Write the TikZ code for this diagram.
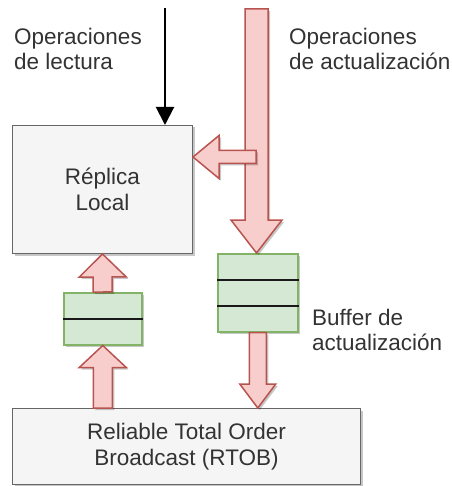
\documentclass[tikz,border=0pt]{standalone}
\usepackage{fontspec}
\setmainfont{Liberation Sans}
\usetikzlibrary{calc,arrows.meta,shadows}

\definecolor{pinkfill}{HTML}{F8CECC}
\definecolor{pinkline}{HTML}{B85450}
\definecolor{greenfill}{HTML}{D5E8D4}
\definecolor{greenline}{HTML}{82B366}
\definecolor{boxfill}{HTML}{F5F5F5}
\definecolor{boxline}{HTML}{666666}
\definecolor{txt}{HTML}{333333}

% Wide outlined arrow from #1 to #2: shaft half width #3, head half width #4, head length #5
\newcommand\flexarrow[5]{%
  \path let \p1=($(#2)-(#1)$) in
    \pgfextra{\pgfmathsetmacro\falen{veclen(\x1,\y1)}%
              \pgfmathsetmacro\faang{atan2(\y1,\x1)}%
              \global\let\falen\falen\global\let\faang\faang};
  \draw[flexarrow, shift={(#1)}, rotate=\faang]
    (0,-#3) -- ({\falen-#5},-#3) -- ({\falen-#5},-#4) -- (\falen,0)
    -- ({\falen-#5},#4) -- ({\falen-#5},#3) -- (0,#3) -- cycle;
}

\begin{document}
\begin{tikzpicture}[x=1pt, y=1pt,
  shade/.style={drop shadow={shadow xshift=2pt, shadow yshift=-2pt, opacity=.22, fill=black}},
  box/.style={draw=boxline, fill=boxfill, line width=1pt, shade, inner sep=0pt,
              text=txt, font=\fontsize{22.5}{25.5}\selectfont, align=center},
  buffer/.style={draw=greenline, fill=greenfill, line width=1.5pt, shade, inner sep=0pt},
  slot/.style={line width=2pt, draw=black!90},
  flexarrow/.style={draw=pinkline, fill=pinkfill, line width=1.5pt, line join=miter, shade},
  lbl/.style={text=txt, font=\fontsize{22.5}{25}\selectfont, inner sep=0pt, align=left},
]
\useasboundingbox (0,0) rectangle (451,-486);

% main boxes
\node[box, minimum width=180pt, minimum height=128pt, anchor=north west] (rep) at (12,-125) {Réplica\\Local};
\node[box, minimum width=348pt, minimum height=76pt, anchor=north west] (rtob) at (12,-408) {Reliable Total Order\\Broadcast (RTOB)};

% buffers
\node[buffer, minimum width=80pt, minimum height=78pt, anchor=north west] (bufupd) at (217,-253) {};
\node[buffer, minimum width=78pt, minimum height=52pt, anchor=north west] (bufrd) at (63,-292) {};
\draw[slot] ($(bufupd.north west)!1/3!(bufupd.south west)$) -- ($(bufupd.north east)!1/3!(bufupd.south east)$);
\draw[slot] ($(bufupd.north west)!2/3!(bufupd.south west)$) -- ($(bufupd.north east)!2/3!(bufupd.south east)$);
\draw[slot] (bufrd.west) -- (bufrd.east);

% read operations
\coordinate (readsrc) at (165,-8);
\draw[line width=2pt, -{Triangle[length=18pt,width=18pt]}] (readsrc) -- (rep.north -| readsrc);

% update flow
\coordinate (updsrc) at (256.5,-9);
\coordinate (updtip) at (updsrc |- bufupd.north);
\flexarrow{updsrc}{updtip}{11.5}{25.5}{33}
\coordinate (applysrc) at (256,-157);
\coordinate (applytgt) at (rep.east |- applysrc);
\flexarrow{applysrc}{applytgt}{6.5}{21.5}{26}

\coordinate (deliver) at (rtob.north -| bufupd.south);
\flexarrow{bufupd.south}{deliver}{8.5}{18}{24}
\coordinate (rtobout) at (rtob.north -| bufrd.south);
\flexarrow{rtobout}{bufrd.south}{9.5}{23.5}{22}
\flexarrow{bufrd.north}{rep.south}{9.5}{23.5}{23}

% labels (anchored on the baseline of their last line)
\node[lbl, anchor=base west] (readlbl) at (14,-70) {Operaciones\\de lectura};
\node[lbl, anchor=base west] (updlbl) at (289,-70) {Operaciones\\de actualización};
\node[lbl, anchor=base west] (buflbl) at (312,-350) {Buffer de\\actualización};
\end{tikzpicture}
\end{document}
